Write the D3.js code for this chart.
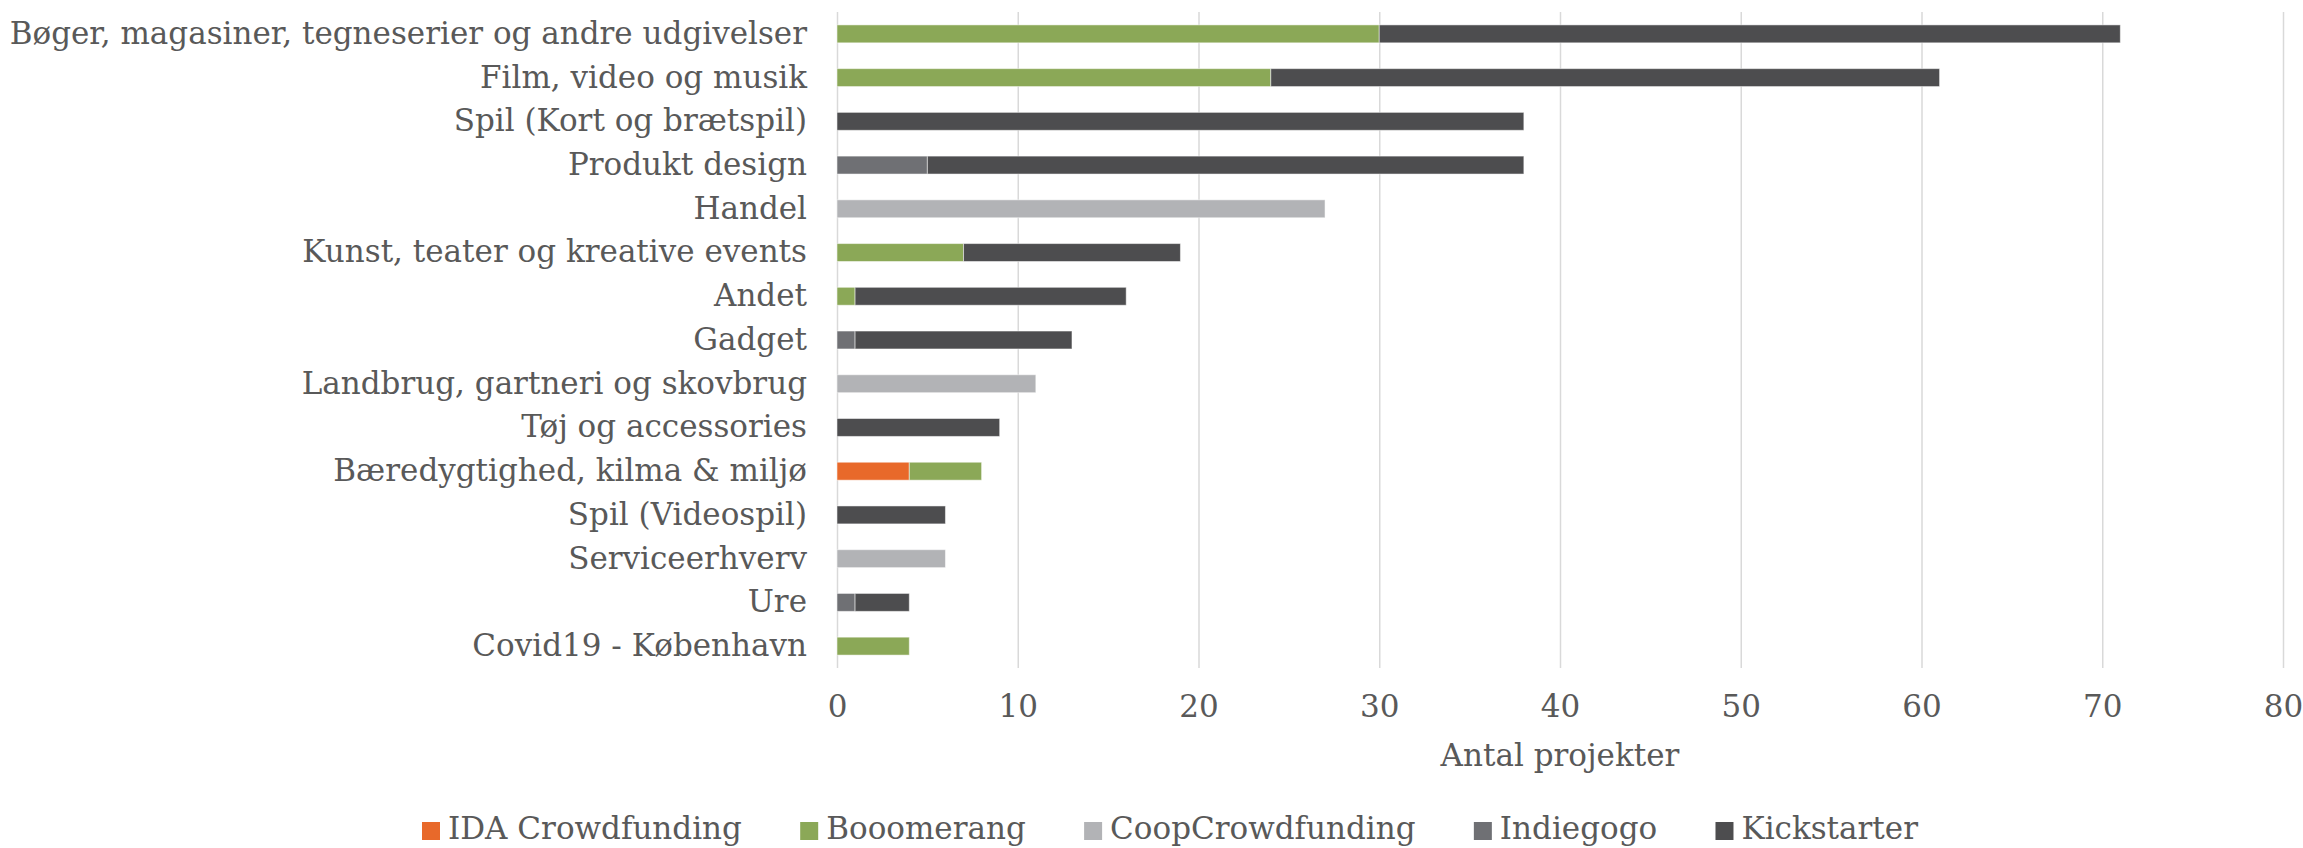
<!DOCTYPE html>
<html>
<head>
<meta charset="utf-8">
<script src="https://cdn.jsdelivr.net/npm/d3@7"></script>
<style>
  body { margin: 0; background: #fff; }
  svg text { font-family: "DejaVu Serif", serif; fill: #595959; }
</style>
</head>
<body>
<div id="chart"></div>
<script>
// categories, top to bottom
const categories = [
    "Bøger, magasiner, tegneserier og andre udgivelser",
    "Film, video og musik",
    "Spil (Kort og brætspil)",
    "Produkt design",
    "Handel",
    "Kunst, teater og kreative events",
    "Andet",
    "Gadget",
    "Landbrug, gartneri og skovbrug",
    "Tøj og accessories",
    "Bæredygtighed, kilma & miljø",
    "Spil (Videospil)",
    "Serviceerhverv",
    "Ure",
    "Covid19 - København"
];
const seriesNames = ["IDA Crowdfunding", "Booomerang", "CoopCrowdfunding", "Indiegogo", "Kickstarter"];
const idaCrowdfunding = [0, 0, 0, 0, 0, 0, 0, 0, 0, 0, 4, 0, 0, 0, 0];
const booomerang      = [30, 24, 0, 0, 0, 7, 1, 0, 0, 0, 4, 0, 0, 0, 4];
const coopCrowdfunding = [0, 0, 0, 0, 27, 0, 0, 0, 11, 0, 0, 0, 6, 0, 0];
const indiegogo       = [0, 0, 0, 5, 0, 0, 0, 1, 0, 0, 0, 0, 0, 1, 0];
const kickstarter     = [41, 37, 38, 33, 0, 12, 15, 12, 0, 9, 0, 6, 0, 3, 0];
const xTicks = [0, 10, 20, 30, 40, 50, 60, 70, 80];
const xTitle = "Antal projekter";

const colors = ["#E8692A", "#8BA857", "#B2B3B6", "#6F7074", "#4D4D4F"];

const W = 2303, H = 848;
const fontSize = "31px";
const margin = { top: 12, left: 837, right: 20 };
const plotW = 2283 - margin.left;
const plotH = 668 - margin.top;

// build rows for d3.stack
const values = [idaCrowdfunding, booomerang, coopCrowdfunding, indiegogo, kickstarter];
const rows = categories.map((c, i) => {
    let r = { cat: c };
    seriesNames.forEach((s, j) => { r[s] = values[j][i]; });
    return r;
});
const stacked = d3.stack().keys(seriesNames)(rows);

const svg = d3.select("#chart")
    .append("svg")
    .attr("width", W)
    .attr("height", H);

const xScale = d3.scaleLinear()
    .domain([0, 80])
    .range([margin.left, margin.left + plotW]);

const yScale = d3.scaleBand()
    .domain(categories)
    .range([margin.top, margin.top + plotH])
    .paddingInner(0.59)
    .paddingOuter(0.295);

const color = d3.scaleOrdinal().domain(seriesNames).range(colors);

// gridlines
svg.append("g")
    .attr("transform", "translate(0," + (margin.top + plotH) + ")")
    .call(d3.axisBottom(xScale).tickValues(xTicks).tickSize(-plotH).tickFormat(""))
    .call(g => g.select(".domain").remove())
    .call(g => g.selectAll(".tick line").attr("stroke", "#D9D9D9").attr("stroke-width", 1.5));

// bars
svg.append("g")
    .selectAll("g")
    .data(stacked)
    .join("g")
    .attr("fill", d => color(d.key))
    .selectAll("rect")
    .data(d => d.filter(p => p[1] - p[0] > 0))
    .join("rect")
    .attr("x", d => xScale(d[0]))
    .attr("y", d => yScale(d.data.cat))
    .attr("width", d => xScale(d[1]) - xScale(d[0]))
    .attr("height", yScale.bandwidth())
    .attr("stroke", "#fff")
    .attr("stroke-opacity", 0.5)
    .attr("stroke-width", 1);

// x axis tick labels
svg.append("g")
    .attr("transform", "translate(0," + (margin.top + plotH) + ")")
    .call(d3.axisBottom(xScale).tickValues(xTicks).tickSize(0).tickPadding(27).tickFormat(d3.format("d")))
    .call(g => g.select(".domain").remove())
    .call(g => g.selectAll(".tick text")
        .style("font-family", "'DejaVu Serif', serif")
        .style("font-size", fontSize)
        .attr("fill", "#595959"));

// y axis category labels
svg.append("g")
    .attr("transform", "translate(" + (margin.left - 30) + ",0)")
    .call(d3.axisLeft(yScale).tickSize(0).tickPadding(0))
    .call(g => g.select(".domain").remove())
    .call(g => g.selectAll(".tick text")
        .style("font-family", "'DejaVu Serif', serif")
        .style("font-size", fontSize)
        .attr("fill", "#595959"));

// axis title
svg.append("text")
    .attr("x", margin.left + plotW / 2)
    .attr("y", 755)
    .attr("dy", "0.35em")
    .attr("text-anchor", "middle")
    .style("font-size", fontSize)
    .text(xTitle);

// legend, spread between x=422 and x=1918
const legend = svg.append("g").attr("transform", "translate(0,829)");
const items = seriesNames.map((s, i) => {
    let g = legend.append("g");
    g.append("rect")
        .attr("x", 0)
        .attr("y", -7)
        .attr("width", 18)
        .attr("height", 18)
        .attr("fill", colors[i]);
    let t = g.append("text")
        .attr("x", 26)
        .attr("y", 0)
        .attr("dy", "0.32em")
        .style("font-size", fontSize)
        .text(s);
    return { g: g, w: 26 + t.node().getComputedTextLength() };
});
const totalW = d3.sum(items, d => d.w);
const gap = (1918 - 422 - totalW) / (items.length - 1);
let lx = 422;
items.forEach(it => {
    it.g.attr("transform", "translate(" + lx + ",0)");
    lx += it.w + gap;
});
</script>
</body>
</html>
